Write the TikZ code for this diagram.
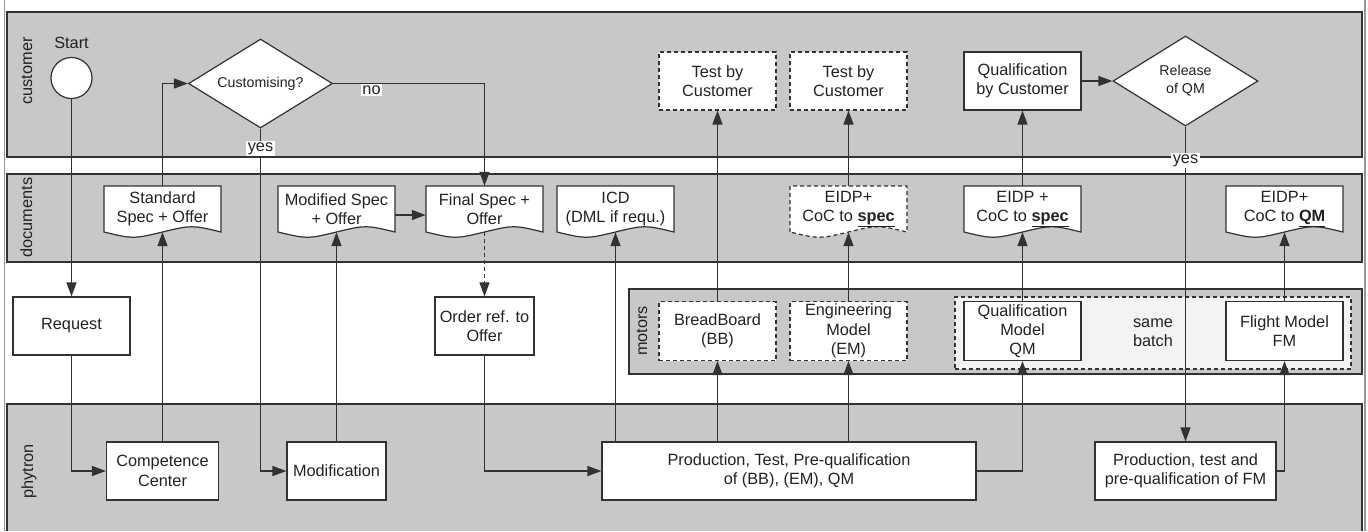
\documentclass[tikz,border=0pt]{standalone}
\usepackage{fontspec}
\setmainfont{Liberation Sans}
\usetikzlibrary{shapes.geometric,arrows.meta,positioning,calc}
\definecolor{lanegray}{RGB}{200,200,200}
\definecolor{linegray}{RGB}{50,50,50}
\definecolor{textgray}{RGB}{34,34,34}
\definecolor{batchfill}{RGB}{244,242,244}
\definecolor{framegray}{RGB}{150,150,150}

% document symbol: outline first, then the named text node on top
\newcommand\docsymbol[4]{%
	\draw[#3] ($#2+(-58.5,23)$) -- ($#2+(-58.5,-23)$) -- ($#2+(58.5,-23)$) -- ($#2+(58.5,23)$)
	.. controls +(-29,-7) and +(29,-7) .. ($#2+(0,23)$)
	.. controls +(-29,7) and +(29,7) .. ($#2+(-58.5,23)$) -- cycle;
	\node[docnode] (#1) at #2 {#4};}

\begin{document}
\begin{tikzpicture}[x=1pt, y=-1pt,
		font=\fontsize{16.3}{19.3}\selectfont, text=textgray,
		lane/.style={draw=linegray, fill=lanegray, line width=1.3pt},
		gap/.style={fill=white, draw=none},
		lanelabel/.style={rotate=90, anchor=base, inner sep=0pt},
		task/.style={rectangle, draw=linegray, fill=white, line width=1.2pt,
				minimum width=117pt, minimum height=58pt, align=center, inner sep=1pt},
		dtask/.style={task, dash pattern=on 4pt off 3pt},
		docnode/.style={rectangle, minimum width=117pt, minimum height=46pt,
				align=center, inner sep=1pt},
		docline/.style={draw=linegray, fill=white, line width=1.2pt},
		docdash/.style={docline, dash pattern=on 4pt off 3pt},
		decision/.style={diamond, draw=linegray, fill=white, line width=1.2pt, align=center,
				inner sep=0pt, font=\fontsize{14.2}{18.3}\selectfont},
		arr/.style={-{Triangle[length=14pt, width=10pt]}, line width=1.4pt, draw=linegray},
		lbl/.style={fill=white, inner sep=1.5pt},
		]
		\useasboundingbox (0,0) rectangle (1368,531);

		% Lanes
		\path[gap] (0,0) rectangle (1368,531);
		\draw[framegray, line width=1.5pt] (4.5,0) -- (4.5,531) (1365,0) -- (1365,531);
		\draw[lane] (7,12) rectangle (1362,157);
		\draw[lane] (7,174) rectangle (1362,262);
		\path[gap] (7,158) rectangle (1362,173);
		\path[gap] (7,263) rectangle (1362,403);
		\fill[lanegray] (7,404) rectangle (1362,531);
		\draw[linegray, line width=1.3pt] (7,531) -- (7,404) -- (1362,404) -- (1362,531);
		\draw[lane] (629,289) rectangle (1362,374);
		\node[lanelabel] (lcustomer) at (32,71) {customer};
		\node[lanelabel] (ldocuments) at (32,217.5) {documents};
		\node[lanelabel] (lphytron) at (33,471.5) {phytron};
		\node[lanelabel] (lmotors) at (647,331) {motors};

		% Customer
		\node[circle, draw=linegray, fill=white, line width=1.2pt, minimum size=41pt, inner sep=0pt,
			label={[inner sep=0pt, label distance=8.5pt]above:Start}] (start) at (71.5,78) {};
		\node[decision, minimum width=144pt, minimum height=89pt, aspect=1.62] (custom) at (260.5,83.5) {Customising?};
		\node[dtask] (testbb) at (717.5,81) {Test by\\Customer};
		\node[dtask] (testem) at (848.5,81) {Test by\\Customer};
		\node[task] (qualcust) at (1022.5,81) {Qualification\\by Customer};
		\node[decision, minimum width=145pt, minimum height=90pt, aspect=1.61] (release) at (1185.5,81) {Release\\of QM};

		% Documents
		\docsymbol{stdspec}{(162.5,209)}{docline}{Standard\\Spec + Offer}
		\docsymbol{modspec}{(336.5,209)}{docline}{Modified Spec\\+ Offer}
		\docsymbol{finspec}{(484.5,209)}{docline}{Final Spec +\\Offer}
		\docsymbol{icd}{(615.5,209)}{docline}{ICD\\(DML if requ.)}
		\docsymbol{eidpem}{(848.5,209)}{docdash}{EIDP+\\CoC to \textbf{\underline{spec}}}
		\docsymbol{eidpqm}{(1022.5,209)}{docline}{EIDP +\\CoC to \textbf{\underline{spec}}}
		\docsymbol{eidpfm}{(1284.5,209)}{docline}{EIDP+\\CoC to \textbf{\underline{QM}}}

		% Request, order and motors
		\node[task] (request) at (71.5,326) {Request};
		\node[task, minimum width=99pt] (order) at (484.5,326) {Order ref. to\\Offer};
		\node[draw=linegray, fill=batchfill, dash pattern=on 4pt off 3pt, line width=1.2pt,
			minimum width=396pt, minimum height=72pt, align=center] (batch) at (1153,333) {same\\batch};
		\node[dtask, minimum height=59pt] (bb) at (717.5,331) {BreadBoard\\(BB)};
		\node[dtask, minimum height=59pt] (em) at (848.5,331) {Engineering\\Model\\(EM)};
		\node[task, minimum height=59pt] (qm) at (1022.5,331) {Qualification\\Model\\QM};
		\node[task, minimum height=59pt] (fm) at (1284.5,331) {Flight Model\\FM};

		% Phytron
		\node[task, minimum width=112pt] (competence) at (162.5,471) {Competence\\Center};
		\node[task, minimum width=99pt] (modification) at (336.5,471) {Modification};
		\node[task, minimum width=374pt] (production) at (789,471) {Production, Test, Pre-qualification\\of (BB), (EM), QM};
		\node[task, minimum width=181pt] (prodfm) at (1185.5,471) {Production, test and\\pre-qualification of FM};

		% Arrows
		\draw[arr] (start) -- (request);
		\draw[arr] (request.south) |- (competence.west);
		\draw[arr] (competence.north) -- (stdspec.south);
		\draw[arr] (stdspec.north) |- (custom.west);
		\draw[arr] (custom.east) -| node[lbl, pos=0.127, below] (no) {no} (finspec.north);
		\draw[arr] (custom.south) |- node[lbl, pos=0.029] (yescust) {yes} (modification.west);
		\draw[arr] (modification.north) -- (modspec.south);
		\draw[arr] ([yshift=-6pt]modspec.east) -- ([yshift=-6pt]finspec.west);
		\draw[arr, dash pattern=on 4pt off 3pt] (finspec.south) -- (order.north);
		\draw[arr] (order.south) |- (production.west);
		\draw[arr] (icd.south |- production.north) -- (icd.south);
		\draw[arr] (bb.south |- production.north) -- (bb.south);
		\draw[arr] (em.south |- production.north) -- (em.south);
		\draw[arr] (production.east) -| (qm.south);
		\draw[arr] (bb.north) -- (testbb.south);
		\draw[arr] (em.north) -- (eidpem.south);
		\draw[arr] (eidpem.north) -- (testem.south);
		\draw[arr] (qm.north) -- (eidpqm.south);
		\draw[arr] (eidpqm.north) -- (qualcust.south);
		\draw[arr] (qualcust.east) -- (release.west);
		\draw[arr] (release.south) -- node[lbl, pos=0.109] (yesrel) {yes} (prodfm.north);
		\draw[arr] (prodfm.east) -| (fm.south);
		\draw[arr] (fm.north) -- (eidpfm.south);
	\end{tikzpicture}
\end{document}
